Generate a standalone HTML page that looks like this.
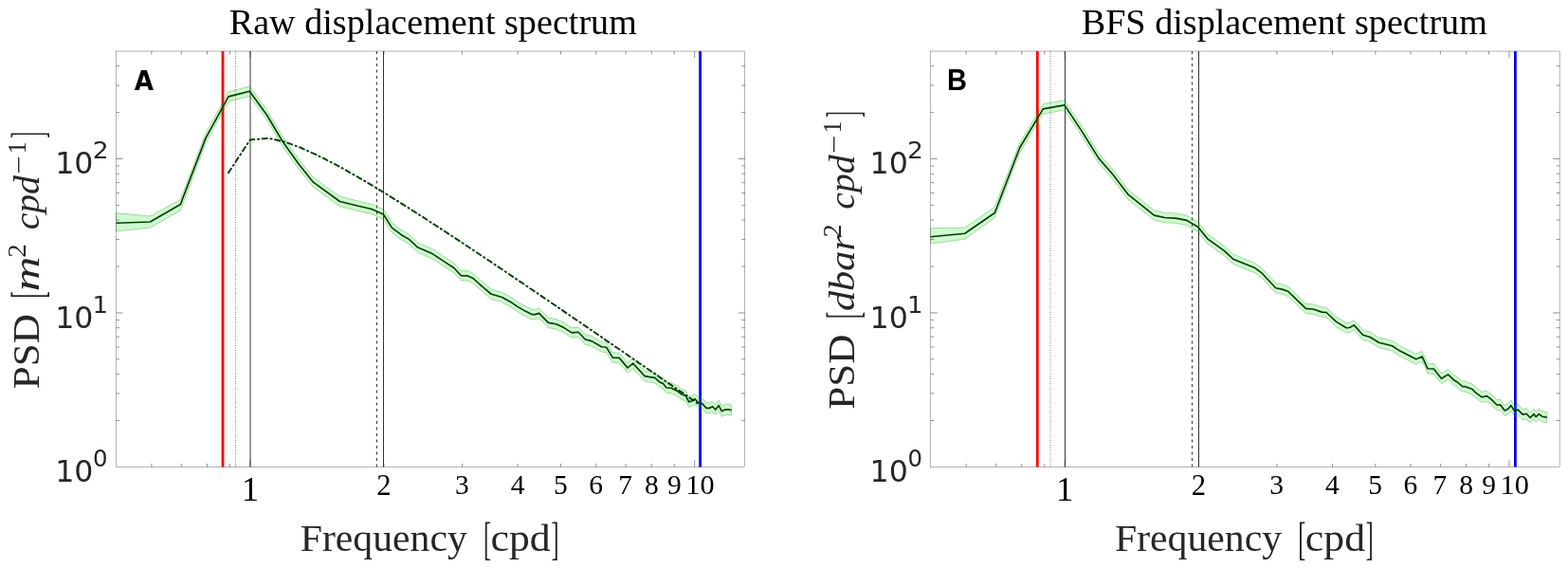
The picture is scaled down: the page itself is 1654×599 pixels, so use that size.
<!DOCTYPE html>
<html><head><meta charset="utf-8"><title>Displacement spectra</title>
<style>html,body{margin:0;padding:0;background:#fff;width:1654px;height:599px;overflow:hidden}svg{display:block}</style>
</head><body>
<svg width="1654" height="599" viewBox="0 0 1654 599">
<rect width="1654" height="599" fill="#fff"/>
<g>
<line x1="248.5" y1="54.0" x2="248.5" y2="492.4" stroke="#222" stroke-width="0.6" stroke-dasharray="1 1.5"/>
<line x1="264.0" y1="54.0" x2="264.0" y2="492.4" stroke="#000" stroke-width="0.8"/>
<line x1="397.5" y1="54.0" x2="397.5" y2="492.4" stroke="#000" stroke-width="0.8" stroke-dasharray="3 3.5"/>
<line x1="404.5" y1="54.0" x2="404.5" y2="492.4" stroke="#000" stroke-width="0.8"/>
<line x1="235.0" y1="54.0" x2="235.0" y2="492.4" stroke="#f00" stroke-width="2.8"/>
<line x1="738.6" y1="54.0" x2="738.6" y2="492.4" stroke="#00f" stroke-width="2.8"/>
<path d="M122.5,224.6 L158.4,228.0 L190.4,210.3 L217.0,140.4 L241.0,96.7 L263.3,91.1 L281.3,115.8 L298.5,144.6 L315.1,167.9 L330.5,187.0 L358.5,207.3 L377.0,211.8 L392.1,215.3 L404.4,220.8 L413.4,234.9 L423.4,242.5 L431.5,247.2 L440.9,255.9 L456.1,262.4 L470.1,271.7 L478.8,277.3 L486.4,285.5 L493.4,285.7 L499.2,288.4 L506.2,294.8 L517.9,304.8 L529.6,308.3 L540.1,314.1 L545.8,318.2 L554.0,322.8 L561.0,326.3 L564.5,326.3 L568.6,325.1 L578.5,335.1 L586.7,336.5 L594.9,340.3 L603.1,345.6 L610.1,345.0 L617.4,352.6 L624.0,354.2 L634.5,360.3 L639.8,360.9 L646.2,371.7 L653.2,372.0 L662.0,382.5 L667.8,377.8 L680.1,391.1 L684.3,391.9 L690.8,392.9 L696.3,397.8 L699.5,398.9 L702.8,403.2 L708.2,403.8 L714.7,407.0 L719.0,410.3 L723.4,411.9 L726.6,418.4 L729.9,417.3 L733.1,415.2 L736.4,419.0 L740.7,420.1 L745.1,424.8 L748.3,424.8 L751.6,423.2 L754.8,426.5 L758.1,422.1 L761.3,428.1 L764.6,426.5 L767.9,426.2 L771.6,427.0 L771.6,438.2 L767.9,437.4 L764.6,437.7 L761.3,439.3 L758.1,433.3 L754.8,437.7 L751.6,434.4 L748.3,436.0 L745.1,436.0 L740.7,431.1 L736.4,430.0 L733.1,426.2 L729.9,428.3 L726.6,429.4 L723.4,422.9 L719.0,421.3 L714.7,418.0 L708.2,414.8 L702.8,414.2 L699.5,409.9 L696.3,408.8 L690.8,403.9 L684.3,402.9 L680.1,402.1 L667.8,388.6 L662.0,393.3 L653.2,382.8 L646.2,382.5 L639.8,371.7 L634.5,371.1 L624.0,365.0 L617.4,363.4 L610.1,355.6 L603.1,356.2 L594.9,350.9 L586.7,347.1 L578.5,345.7 L568.6,335.7 L564.5,336.9 L561.0,336.9 L554.0,333.4 L545.8,328.6 L540.1,324.5 L529.6,318.7 L517.9,315.2 L506.2,305.2 L499.2,298.8 L493.4,296.1 L486.4,295.9 L478.8,287.7 L470.1,282.1 L456.1,272.8 L440.9,266.3 L431.5,257.6 L423.4,252.9 L413.4,245.3 L404.4,231.2 L392.1,225.7 L377.0,222.2 L358.5,217.7 L330.5,197.4 L315.1,178.3 L298.5,155.0 L281.3,126.2 L263.3,101.5 L241.0,107.1 L217.0,150.8 L190.4,221.9 L158.4,240.2 L122.5,244.0 Z" fill="#00e000" fill-opacity="0.19" stroke="#008a00" stroke-opacity="0.38" stroke-width="0.8" stroke-linejoin="round"/>
<polyline points="241.0,182.1 263.9,147.4 283.3,145.8 301.0,149.8 317.3,155.8 332.4,162.6 346.5,169.6 359.6,176.6 371.9,183.5 383.6,190.2 394.6,196.8 405.0,203.1 415.0,209.3 424.4,215.2 433.5,220.9 442.1,226.4 450.5,231.8 458.4,237.0 466.1,242.0 473.5,246.8 480.7,251.5 487.6,256.1 494.3,260.5 500.7,264.8 507.0,269.0 513.1,273.0 519.0,277.0 524.7,280.8 530.3,284.6 535.7,288.2 541.0,291.8 546.1,295.3 551.2,298.7 556.1,302.0 560.9,305.3 565.6,308.4 570.1,311.5 574.6,314.6 579.0,317.6 583.3,320.5 587.5,323.3 591.6,326.1 595.6,328.9 599.6,331.6 603.4,334.2 607.2,336.8 611.0,339.4 614.7,341.9 618.3,344.4 621.8,346.8 625.3,349.2 628.7,351.5 632.1,353.8 635.4,356.1 638.6,358.4 641.8,360.6 645.0,362.7 648.1,364.9 651.2,367.0 654.2,369.0 657.2,371.1 660.1,373.1 663.0,375.1 665.8,377.0 668.6,379.0 671.4,380.9 674.1,382.8 676.8,384.6 679.5,386.4 682.1,388.3 684.7,390.0 687.3,391.8 689.8,393.5 692.3,395.3 694.8,397.0 697.2,398.6 699.6,400.3 702.0,402.0 704.3,403.6 706.7,405.2 709.0,406.8 711.2,408.3 713.5,409.9 715.7,411.4 717.9,412.9 720.1,414.4 722.3,415.9 724.4,417.4 726.5,418.9 728.6,420.3 730.7,421.7 732.7,423.1 734.7,424.5 736.7,425.9 738.7,427.3" fill="none" stroke="#0a420a" stroke-width="2.0" stroke-linecap="round" stroke-dasharray="5.2 3.6 1.2 3.6"/>
<polyline points="122.5,235.2 158.4,234.0 190.4,215.5 217.0,145.6 241.0,101.9 263.3,96.3 281.3,121.0 298.5,149.8 315.1,173.1 330.5,192.2 358.5,212.5 377.0,217.0 392.1,220.5 404.4,226.0 413.4,240.1 423.4,247.7 431.5,252.4 440.9,261.1 456.1,267.6 470.1,276.9 478.8,282.5 486.4,290.7 493.4,290.9 499.2,293.6 506.2,300.0 517.9,310.0 529.6,313.5 540.1,319.3 545.8,323.4 554.0,328.1 561.0,331.6 564.5,331.6 568.6,330.4 578.5,340.4 586.7,341.8 594.9,345.6 603.1,350.9 610.1,350.3 617.4,358.0 624.0,359.6 634.5,365.7 639.8,366.3 646.2,377.1 653.2,377.4 662.0,387.9 667.8,383.2 680.1,396.6 684.3,397.4 690.8,398.4 696.3,403.3 699.5,404.4 702.8,408.7 708.2,409.3 714.7,412.5 719.0,415.8 723.4,417.4 726.6,423.9 729.9,422.8 733.1,420.7 736.4,424.5 740.7,425.6 745.1,430.4 748.3,430.4 751.6,428.8 754.8,432.1 758.1,427.7 761.3,433.7 764.6,432.1 767.9,431.8 771.6,432.6" fill="none" stroke="#043d04" stroke-width="1.65" stroke-linejoin="round"/>
<rect x="122.5" y="54.0" width="663.3" height="438.4" fill="none" stroke="#262626" stroke-width="0.35"/>
<path d="M159.90,492.4v-3.5M159.90,54.0v3.5M191.28,492.4v-3.5M191.28,54.0v3.5M218.47,492.4v-3.5M218.47,54.0v3.5M242.45,492.4v-3.5M242.45,54.0v3.5M405.02,492.4v-3.5M405.02,54.0v3.5M487.57,492.4v-3.5M487.57,54.0v3.5M546.15,492.4v-3.5M546.15,54.0v3.5M591.58,492.4v-3.5M591.58,54.0v3.5M628.70,492.4v-3.5M628.70,54.0v3.5M660.08,492.4v-3.5M660.08,54.0v3.5M687.27,492.4v-3.5M687.27,54.0v3.5M711.25,492.4v-3.5M711.25,54.0v3.5M263.90,492.4v-7M263.90,54.0v7M732.70,492.4v-7M732.70,54.0v7M122.5,443.50h3.5M785.8,443.50h-3.5M122.5,414.89h3.5M785.8,414.89h-3.5M122.5,394.60h3.5M785.8,394.60h-3.5M122.5,378.85h3.5M785.8,378.85h-3.5M122.5,365.99h3.5M785.8,365.99h-3.5M122.5,355.11h3.5M785.8,355.11h-3.5M122.5,345.69h3.5M785.8,345.69h-3.5M122.5,337.38h3.5M785.8,337.38h-3.5M122.5,329.95h7M785.8,329.95h-7M122.5,281.05h3.5M785.8,281.05h-3.5M122.5,252.44h3.5M785.8,252.44h-3.5M122.5,232.15h3.5M785.8,232.15h-3.5M122.5,216.40h3.5M785.8,216.40h-3.5M122.5,203.54h3.5M785.8,203.54h-3.5M122.5,192.66h3.5M785.8,192.66h-3.5M122.5,183.24h3.5M785.8,183.24h-3.5M122.5,174.93h3.5M785.8,174.93h-3.5M122.5,167.50h7M785.8,167.50h-7M122.5,118.60h3.5M785.8,118.60h-3.5M122.5,89.99h3.5M785.8,89.99h-3.5M122.5,69.70h3.5M785.8,69.70h-3.5" stroke="#262626" stroke-width="0.5" fill="none"/>
</g>
<g>
<line x1="1108.0" y1="54.0" x2="1108.0" y2="492.4" stroke="#222" stroke-width="0.6" stroke-dasharray="1 1.5"/>
<line x1="1123.5" y1="54.0" x2="1123.5" y2="492.4" stroke="#000" stroke-width="0.8"/>
<line x1="1257.5" y1="54.0" x2="1257.5" y2="492.4" stroke="#000" stroke-width="0.8" stroke-dasharray="3 3.5"/>
<line x1="1264.5" y1="54.0" x2="1264.5" y2="492.4" stroke="#000" stroke-width="0.8"/>
<line x1="1094.3" y1="54.0" x2="1094.3" y2="492.4" stroke="#f00" stroke-width="2.8"/>
<line x1="1598.4" y1="54.0" x2="1598.4" y2="492.4" stroke="#00f" stroke-width="2.8"/>
<path d="M981.6,240.7 L1017.7,240.2 L1049.3,218.2 L1075.7,150.6 L1100.3,109.7 L1122.9,105.7 L1141.0,132.9 L1159.1,161.9 L1174.1,179.0 L1190.1,200.0 L1217.5,221.9 L1228.6,224.3 L1240.3,224.9 L1251.9,227.2 L1256.6,230.1 L1263.6,234.0 L1273.7,246.6 L1291.3,259.2 L1300.7,268.0 L1311.3,272.4 L1323.8,277.4 L1331.3,283.0 L1345.7,298.6 L1352.6,299.9 L1358.8,302.1 L1377.5,320.2 L1385.1,320.8 L1394.4,323.9 L1399.1,324.3 L1409.6,334.1 L1420.1,340.5 L1423.6,340.2 L1428.3,337.6 L1437.6,347.9 L1445.2,350.2 L1454.5,356.0 L1461.6,357.6 L1468.6,359.4 L1476.7,364.7 L1493.7,373.4 L1500.1,370.5 L1506.0,383.4 L1512.4,383.5 L1520.5,393.8 L1527.5,389.4 L1533.4,395.2 L1537.4,397.5 L1542.7,402.2 L1545.0,402.0 L1553.2,405.1 L1556.7,408.6 L1563.2,413.2 L1568.4,412.0 L1573.1,415.5 L1578.9,421.4 L1582.9,421.5 L1587.1,427.4 L1590.9,425.7 L1593.8,421.9 L1597.5,427.8 L1601.3,426.5 L1606.3,431.5 L1610.1,430.6 L1614.2,434.8 L1618.0,431.0 L1620.1,433.9 L1623.4,431.0 L1626.7,433.5 L1631.8,434.4 L1631.8,445.8 L1626.7,444.9 L1623.4,442.4 L1620.1,445.3 L1618.0,442.4 L1614.2,446.2 L1610.1,442.0 L1606.3,442.7 L1601.3,437.7 L1597.5,439.0 L1593.8,433.1 L1590.9,436.9 L1587.1,438.6 L1582.9,432.7 L1578.9,432.6 L1573.1,426.7 L1568.4,423.2 L1563.2,424.4 L1556.7,419.6 L1553.2,416.1 L1545.0,413.0 L1542.7,413.2 L1537.4,408.5 L1533.4,406.2 L1527.5,400.4 L1520.5,404.8 L1512.4,394.5 L1506.0,394.2 L1500.1,381.3 L1493.7,384.2 L1476.7,375.5 L1468.6,370.2 L1461.6,368.4 L1454.5,366.6 L1445.2,360.8 L1437.6,358.5 L1428.3,348.2 L1423.6,350.8 L1420.1,351.1 L1409.6,344.7 L1399.1,334.7 L1394.4,334.3 L1385.1,331.2 L1377.5,330.6 L1358.8,312.5 L1352.6,310.3 L1345.7,309.0 L1331.3,293.4 L1323.8,287.8 L1311.3,282.8 L1300.7,278.4 L1291.3,269.6 L1273.7,257.0 L1263.6,244.4 L1256.6,240.5 L1251.9,237.6 L1240.3,235.3 L1228.6,234.7 L1217.5,232.3 L1190.1,210.4 L1174.1,189.4 L1159.1,172.3 L1141.0,143.3 L1122.9,116.1 L1100.3,120.1 L1075.7,161.0 L1049.3,229.5 L1017.7,252.3 L981.6,257.0 Z" fill="#00e000" fill-opacity="0.19" stroke="#008a00" stroke-opacity="0.38" stroke-width="0.8" stroke-linejoin="round"/>
<polyline points="981.6,249.8 1017.7,246.3 1049.3,224.5 1075.7,155.8 1100.3,114.9 1122.9,110.9 1141.0,138.1 1159.1,167.1 1174.1,184.2 1190.1,205.2 1217.5,227.1 1228.6,229.5 1240.3,230.1 1251.9,232.4 1256.6,235.3 1263.6,239.2 1273.7,251.8 1291.3,264.4 1300.7,273.2 1311.3,277.6 1323.8,282.6 1331.3,288.2 1345.7,303.8 1352.6,305.1 1358.8,307.3 1377.5,325.4 1385.1,326.0 1394.4,329.1 1399.1,329.5 1409.6,339.4 1420.1,345.8 1423.6,345.5 1428.3,342.9 1437.6,353.2 1445.2,355.5 1454.5,361.3 1461.6,363.0 1468.6,364.8 1476.7,370.1 1493.7,378.8 1500.1,375.9 1506.0,388.8 1512.4,389.0 1520.5,399.3 1527.5,394.9 1533.4,400.7 1537.4,403.0 1542.7,407.7 1545.0,407.5 1553.2,410.6 1556.7,414.1 1563.2,418.8 1568.4,417.6 1573.1,421.1 1578.9,427.0 1582.9,427.1 1587.1,433.0 1590.9,431.3 1593.8,427.5 1597.5,433.4 1601.3,432.1 1606.3,437.1 1610.1,436.3 1614.2,440.5 1618.0,436.7 1620.1,439.6 1623.4,436.7 1626.7,439.2 1631.8,440.1" fill="none" stroke="#043d04" stroke-width="1.65" stroke-linejoin="round"/>
<rect x="981.8" y="54.0" width="663.3" height="438.4" fill="none" stroke="#262626" stroke-width="0.35"/>
<path d="M1019.20,492.4v-3.5M1019.20,54.0v3.5M1050.58,492.4v-3.5M1050.58,54.0v3.5M1077.77,492.4v-3.5M1077.77,54.0v3.5M1101.75,492.4v-3.5M1101.75,54.0v3.5M1264.32,492.4v-3.5M1264.32,54.0v3.5M1346.87,492.4v-3.5M1346.87,54.0v3.5M1405.45,492.4v-3.5M1405.45,54.0v3.5M1450.88,492.4v-3.5M1450.88,54.0v3.5M1488.00,492.4v-3.5M1488.00,54.0v3.5M1519.38,492.4v-3.5M1519.38,54.0v3.5M1546.57,492.4v-3.5M1546.57,54.0v3.5M1570.55,492.4v-3.5M1570.55,54.0v3.5M1123.20,492.4v-7M1123.20,54.0v7M1592.00,492.4v-7M1592.00,54.0v7M981.8,443.50h3.5M1645.1,443.50h-3.5M981.8,414.89h3.5M1645.1,414.89h-3.5M981.8,394.60h3.5M1645.1,394.60h-3.5M981.8,378.85h3.5M1645.1,378.85h-3.5M981.8,365.99h3.5M1645.1,365.99h-3.5M981.8,355.11h3.5M1645.1,355.11h-3.5M981.8,345.69h3.5M1645.1,345.69h-3.5M981.8,337.38h3.5M1645.1,337.38h-3.5M981.8,329.95h7M1645.1,329.95h-7M981.8,281.05h3.5M1645.1,281.05h-3.5M981.8,252.44h3.5M1645.1,252.44h-3.5M981.8,232.15h3.5M1645.1,232.15h-3.5M981.8,216.40h3.5M1645.1,216.40h-3.5M981.8,203.54h3.5M1645.1,203.54h-3.5M981.8,192.66h3.5M1645.1,192.66h-3.5M981.8,183.24h3.5M1645.1,183.24h-3.5M981.8,174.93h3.5M1645.1,174.93h-3.5M981.8,167.50h7M1645.1,167.50h-7M981.8,118.60h3.5M1645.1,118.60h-3.5M981.8,89.99h3.5M1645.1,89.99h-3.5M981.8,69.70h3.5M1645.1,69.70h-3.5" stroke="#262626" stroke-width="0.5" fill="none"/>
</g>
<text x="58.22" y="183.20" font-family="DejaVu Sans, sans-serif" font-size="31.7" textLength="40.28" lengthAdjust="spacingAndGlyphs" fill="#262626">10</text>
<text x="97.75" y="167.30" font-family="DejaVu Sans, sans-serif" font-size="25.5" textLength="16.91" lengthAdjust="spacingAndGlyphs" fill="#262626">2</text>
<text x="58.22" y="345.65" font-family="DejaVu Sans, sans-serif" font-size="31.7" textLength="40.28" lengthAdjust="spacingAndGlyphs" fill="#262626">10</text>
<text x="97.64" y="329.75" font-family="DejaVu Sans, sans-serif" font-size="25.5" textLength="16.56" lengthAdjust="spacingAndGlyphs" fill="#262626">1</text>
<text x="58.22" y="508.10" font-family="DejaVu Sans, sans-serif" font-size="31.7" textLength="40.28" lengthAdjust="spacingAndGlyphs" fill="#262626">10</text>
<text x="98.09" y="492.20" font-family="DejaVu Sans, sans-serif" font-size="25.5" textLength="15.53" lengthAdjust="spacingAndGlyphs" fill="#262626">0</text>
<text x="254.78" y="527.70" font-family="Liberation Serif, serif" font-size="36" textLength="18.32" lengthAdjust="spacingAndGlyphs" fill="#000">1</text>
<text x="397.35" y="521.70" font-family="Liberation Serif, serif" font-size="30.5" textLength="15.34" lengthAdjust="spacingAndGlyphs" fill="#000">2</text>
<text x="480.07" y="521.20" font-family="Liberation Serif, serif" font-size="29.5" textLength="14.75" lengthAdjust="spacingAndGlyphs" fill="#000">3</text>
<text x="538.71" y="521.20" font-family="Liberation Serif, serif" font-size="29.5" textLength="14.75" lengthAdjust="spacingAndGlyphs" fill="#000">4</text>
<text x="583.92" y="521.20" font-family="Liberation Serif, serif" font-size="29.5" textLength="14.75" lengthAdjust="spacingAndGlyphs" fill="#000">5</text>
<text x="621.13" y="521.20" font-family="Liberation Serif, serif" font-size="29.5" textLength="14.75" lengthAdjust="spacingAndGlyphs" fill="#000">6</text>
<text x="652.16" y="521.20" font-family="Liberation Serif, serif" font-size="29.5" textLength="14.75" lengthAdjust="spacingAndGlyphs" fill="#000">7</text>
<text x="679.89" y="521.20" font-family="Liberation Serif, serif" font-size="29.5" textLength="14.75" lengthAdjust="spacingAndGlyphs" fill="#000">8</text>
<text x="704.00" y="521.20" font-family="Liberation Serif, serif" font-size="29.5" textLength="14.75" lengthAdjust="spacingAndGlyphs" fill="#000">9</text>
<text x="723.34" y="521.20" font-family="Liberation Serif, serif" font-size="29.5" textLength="30.32" lengthAdjust="spacingAndGlyphs" fill="#000">10</text>
<text x="241.70" y="35.80" font-family="Liberation Serif, serif" font-size="38.2" textLength="430.20" lengthAdjust="spacingAndGlyphs" fill="#000">Raw displacement spectrum</text>
<text x="316.70" y="581.10" font-family="Liberation Serif, serif" font-size="40.0" textLength="176.06" lengthAdjust="spacingAndGlyphs" fill="#262626">Frequency</text>
<g transform="translate(0,570.85) scale(1,1.196) translate(0,-569.9)"><text x="509.90" y="581.10" font-family="Liberation Serif, serif" font-size="40.0" textLength="8.08" lengthAdjust="spacingAndGlyphs" fill="#262626">[</text></g>
<text x="517.53" y="581.10" font-family="Liberation Serif, serif" font-size="40.0" textLength="63.20" lengthAdjust="spacingAndGlyphs" fill="#262626">cpd</text>
<g transform="translate(0,570.85) scale(1,1.196) translate(0,-569.9)"><text x="581.42" y="581.10" font-family="Liberation Serif, serif" font-size="40.0" textLength="8.08" lengthAdjust="spacingAndGlyphs" fill="#262626">]</text></g>
<text x="141.87" y="94.70" font-family="DejaVu Sans, sans-serif" font-size="28.4" font-weight="bold" textLength="20.26" lengthAdjust="spacingAndGlyphs" fill="#000">A</text>
<text x="917.52" y="183.20" font-family="DejaVu Sans, sans-serif" font-size="31.7" textLength="40.28" lengthAdjust="spacingAndGlyphs" fill="#262626">10</text>
<text x="957.05" y="167.30" font-family="DejaVu Sans, sans-serif" font-size="25.5" textLength="16.91" lengthAdjust="spacingAndGlyphs" fill="#262626">2</text>
<text x="917.52" y="345.65" font-family="DejaVu Sans, sans-serif" font-size="31.7" textLength="40.28" lengthAdjust="spacingAndGlyphs" fill="#262626">10</text>
<text x="956.94" y="329.75" font-family="DejaVu Sans, sans-serif" font-size="25.5" textLength="16.56" lengthAdjust="spacingAndGlyphs" fill="#262626">1</text>
<text x="917.52" y="508.10" font-family="DejaVu Sans, sans-serif" font-size="31.7" textLength="40.28" lengthAdjust="spacingAndGlyphs" fill="#262626">10</text>
<text x="957.39" y="492.20" font-family="DejaVu Sans, sans-serif" font-size="25.5" textLength="15.53" lengthAdjust="spacingAndGlyphs" fill="#262626">0</text>
<text x="1114.08" y="527.70" font-family="Liberation Serif, serif" font-size="36" textLength="18.32" lengthAdjust="spacingAndGlyphs" fill="#000">1</text>
<text x="1256.65" y="521.70" font-family="Liberation Serif, serif" font-size="30.5" textLength="15.34" lengthAdjust="spacingAndGlyphs" fill="#000">2</text>
<text x="1339.37" y="521.20" font-family="Liberation Serif, serif" font-size="29.5" textLength="14.75" lengthAdjust="spacingAndGlyphs" fill="#000">3</text>
<text x="1398.01" y="521.20" font-family="Liberation Serif, serif" font-size="29.5" textLength="14.75" lengthAdjust="spacingAndGlyphs" fill="#000">4</text>
<text x="1443.22" y="521.20" font-family="Liberation Serif, serif" font-size="29.5" textLength="14.75" lengthAdjust="spacingAndGlyphs" fill="#000">5</text>
<text x="1480.43" y="521.20" font-family="Liberation Serif, serif" font-size="29.5" textLength="14.75" lengthAdjust="spacingAndGlyphs" fill="#000">6</text>
<text x="1511.46" y="521.20" font-family="Liberation Serif, serif" font-size="29.5" textLength="14.75" lengthAdjust="spacingAndGlyphs" fill="#000">7</text>
<text x="1539.19" y="521.20" font-family="Liberation Serif, serif" font-size="29.5" textLength="14.75" lengthAdjust="spacingAndGlyphs" fill="#000">8</text>
<text x="1563.30" y="521.20" font-family="Liberation Serif, serif" font-size="29.5" textLength="14.75" lengthAdjust="spacingAndGlyphs" fill="#000">9</text>
<text x="1582.64" y="521.20" font-family="Liberation Serif, serif" font-size="29.5" textLength="30.32" lengthAdjust="spacingAndGlyphs" fill="#000">10</text>
<text x="1140.70" y="35.80" font-family="Liberation Serif, serif" font-size="38.2" textLength="428.20" lengthAdjust="spacingAndGlyphs" fill="#000">BFS displacement spectrum</text>
<text x="1176.00" y="581.10" font-family="Liberation Serif, serif" font-size="40.0" textLength="176.06" lengthAdjust="spacingAndGlyphs" fill="#262626">Frequency</text>
<g transform="translate(0,570.85) scale(1,1.196) translate(0,-569.9)"><text x="1369.20" y="581.10" font-family="Liberation Serif, serif" font-size="40.0" textLength="8.08" lengthAdjust="spacingAndGlyphs" fill="#262626">[</text></g>
<text x="1376.83" y="581.10" font-family="Liberation Serif, serif" font-size="40.0" textLength="63.20" lengthAdjust="spacingAndGlyphs" fill="#262626">cpd</text>
<g transform="translate(0,570.85) scale(1,1.196) translate(0,-569.9)"><text x="1440.72" y="581.10" font-family="Liberation Serif, serif" font-size="40.0" textLength="8.08" lengthAdjust="spacingAndGlyphs" fill="#262626">]</text></g>
<text x="999.06" y="94.80" font-family="Liberation Sans, sans-serif" font-size="30.5" font-weight="bold" textLength="20.96" lengthAdjust="spacingAndGlyphs" fill="#000">B</text>
<g transform="translate(41.1,409.0) rotate(-90)">
<text x="-1.24" y="0.00" font-family="Liberation Serif, serif" font-size="39.9" textLength="79.17" lengthAdjust="spacingAndGlyphs" fill="#262626">PSD</text>
<g transform="translate(0,-9.3) scale(1,1.243) translate(0,10.78)"><text x="94.33" y="0.00" font-family="Liberation Serif, serif" font-size="38.5" textLength="7.48" lengthAdjust="spacingAndGlyphs" fill="#262626">[</text></g>
<text x="101.67" y="0.00" font-family="Liberation Serif, serif" font-size="38.5" font-style="italic" textLength="36.67" lengthAdjust="spacingAndGlyphs" fill="#262626">m</text>
<text x="137.22" y="-13.80" font-family="Liberation Serif, serif" font-size="27.5" textLength="14.59" lengthAdjust="spacingAndGlyphs" fill="#262626">2</text>
<text x="166.68" y="0.00" font-family="Liberation Serif, serif" font-size="38.5" font-style="italic" textLength="57.22" lengthAdjust="spacingAndGlyphs" fill="#262626">cpd</text>
<text x="225.50" y="-11.90" font-family="Liberation Serif, serif" font-size="27.5" textLength="19.27" lengthAdjust="spacingAndGlyphs" fill="#262626">−</text>
<text x="246.73" y="-13.80" font-family="Liberation Serif, serif" font-size="27.5" textLength="12.92" lengthAdjust="spacingAndGlyphs" fill="#262626">1</text>
<g transform="translate(0,-9.3) scale(1,1.243) translate(0,10.78)"><text x="263.27" y="0.00" font-family="Liberation Serif, serif" font-size="38.5" textLength="6.73" lengthAdjust="spacingAndGlyphs" fill="#262626">]</text></g>
</g>
<g transform="translate(900.9,430.6) rotate(-90)">
<text x="-1.24" y="0.00" font-family="Liberation Serif, serif" font-size="39.9" textLength="79.17" lengthAdjust="spacingAndGlyphs" fill="#262626">PSD</text>
<g transform="translate(0,-9.3) scale(1,1.243) translate(0,10.78)"><text x="94.33" y="0.00" font-family="Liberation Serif, serif" font-size="38.5" textLength="7.48" lengthAdjust="spacingAndGlyphs" fill="#262626">[</text></g>
<text x="102.52" y="0.00" font-family="Liberation Serif, serif" font-size="38.5" font-style="italic" textLength="79.96" lengthAdjust="spacingAndGlyphs" fill="#262626">dbar</text>
<text x="180.38" y="-13.80" font-family="Liberation Serif, serif" font-size="27.5" textLength="13.84" lengthAdjust="spacingAndGlyphs" fill="#262626">2</text>
<text x="209.98" y="0.00" font-family="Liberation Serif, serif" font-size="38.5" font-style="italic" textLength="57.22" lengthAdjust="spacingAndGlyphs" fill="#262626">cpd</text>
<text x="268.80" y="-11.90" font-family="Liberation Serif, serif" font-size="27.5" textLength="19.27" lengthAdjust="spacingAndGlyphs" fill="#262626">−</text>
<text x="290.03" y="-13.80" font-family="Liberation Serif, serif" font-size="27.5" textLength="12.92" lengthAdjust="spacingAndGlyphs" fill="#262626">1</text>
<g transform="translate(0,-9.3) scale(1,1.243) translate(0,10.78)"><text x="306.57" y="0.00" font-family="Liberation Serif, serif" font-size="38.5" textLength="6.73" lengthAdjust="spacingAndGlyphs" fill="#262626">]</text></g>
</g>
</svg>
</body></html>
